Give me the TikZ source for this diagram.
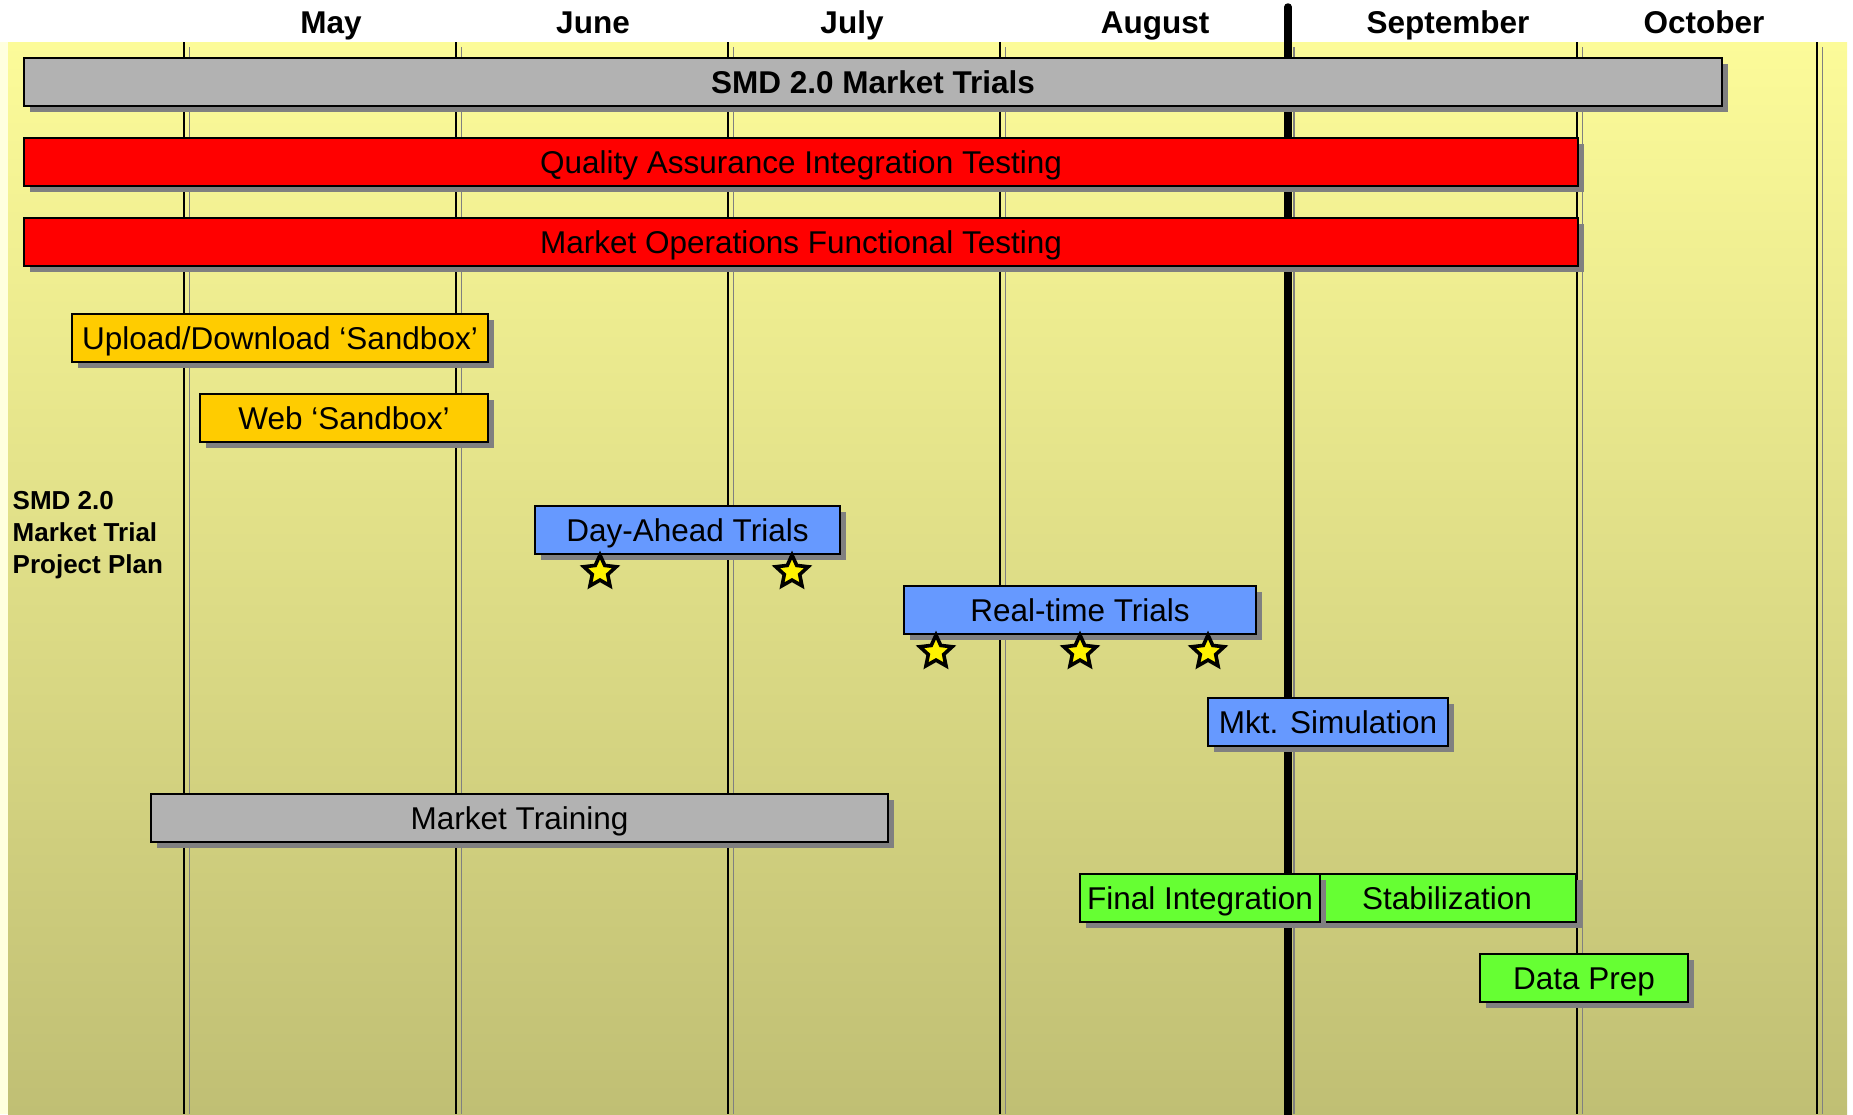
\documentclass[tikz,border=0pt]{standalone}
\usepackage{fontspec}
\setmainfont{Liberation Sans}
\usetikzlibrary{shapes.geometric,shadows}
\definecolor{bargray}{RGB}{178,178,178}
\definecolor{barred}{RGB}{255,0,0}
\definecolor{bargold}{RGB}{255,204,0}
\definecolor{barblue}{RGB}{102,153,255}
\definecolor{bargreen}{RGB}{102,255,51}
\definecolor{shadowgray}{RGB}{128,128,128}
\definecolor{bgtop}{RGB}{252,251,153}
\definecolor{bgbot}{RGB}{192,191,116}
\definecolor{palestrip}{RGB}{255,255,222}
\tikzset{
  bar/.style={draw=black, line width=2pt, rectangle, inner sep=0pt,
    minimum height=48pt, text height=22.5pt, text depth=0pt,
    font=\fontsize{31.5}{37}\selectfont,
    drop shadow={shadow xshift=5.5pt, shadow yshift=-5.5pt, fill=shadowgray, opacity=1}},
  month/.style={anchor=base, inner sep=0pt, font=\fontsize{31.5}{37}\selectfont\bfseries},
  starmark/.style={star, star points=5, star point ratio=2.1, minimum size=34pt,
    inner sep=0pt, draw=black, line width=3.6pt, fill=yellow},
  monthline/.style={draw=black, line width=1.8pt},
  monthshade/.style={draw=shadowgray, line width=1.8pt},
}
\begin{document}
\begin{tikzpicture}[x=1pt,y=-1pt]
\useasboundingbox (0,0) rectangle (1853,1114);
\clip (0,0) rectangle (1853,1114);
% background
\fill[white] (0,0) rectangle (1853,1114);
\fill[palestrip] (0,42) rectangle (8,1114);
\shade[top color=bgtop, bottom color=bgbot] (8,42) rectangle (1847,1114);
% month boundaries
\foreach \mx in {184,456,728,1000,1577,1817}{
  \draw[monthshade] (\mx+5.5,47) -- (\mx+5.5,1114);
  \draw[monthline] (\mx,42) -- (\mx,1114);
}
\draw[draw=shadowgray, line width=2pt] (1294,47) -- (1294,1114);
\draw[draw=black, line width=7.5pt, line cap=round] (1288,7) -- (1288,1120);
% month labels
\node[month] (may) at (331,33) {May};
\node[month] (jun) at (593,33) {June};
\node[month] (jul) at (852,33) {July};
\node[month] (aug) at (1155,33) {August};
\node[month] (sep) at (1448,33) {September};
\node[month] (oct) at (1704,33) {October};
% title
\node[anchor=north west, inner sep=0pt, align=left,
  font=\fontsize{26}{32}\selectfont\bfseries] (title) at (12.5,491.5)
  {SMD 2.0\\Market Trial\\Project Plan};
% bars
\node[bar, fill=bargray, minimum width=1698pt, font=\fontsize{31.5}{37}\selectfont\bfseries] (smd) at (873,82) {SMD 2.0 Market Trials};
\node[bar, fill=barred, minimum width=1554pt] (qa) at (801,162) {Quality Assurance Integration Testing};
\node[bar, fill=barred, minimum width=1554pt] (moft) at (801,242) {Market Operations Functional Testing};
\node[bar, fill=bargold, minimum width=416pt] (upl) at (280,338) {Upload/Download ‘Sandbox’};
\node[bar, fill=bargold, minimum width=288pt] (web) at (344,418) {Web ‘Sandbox’};
\node[bar, fill=barblue, minimum width=305pt] (dat) at (687.5,530) {Day-Ahead Trials};
\node[bar, fill=barblue, minimum width=352pt] (rtt) at (1080,610) {Real-time Trials};
\node[bar, fill=barblue, minimum width=240pt] (sim) at (1328,722) {Mkt. Simulation};
\node[bar, fill=bargray, minimum width=737pt] (trn) at (519.5,818) {Market Training};
\node[bar, fill=bargreen, minimum width=261pt] (stab) at (1445.5,898) {\hspace*{3pt}Stabilization};
\node[bar, fill=bargreen, minimum width=240pt] (fin) at (1200,898) {Final Integration};
\node[bar, fill=bargreen, minimum width=208pt] (dp) at (1584,978) {Data Prep};
% milestones
\node[starmark] (s1) at (600,572) {};
\node[starmark] (s2) at (792,572) {};
\node[starmark] (s3) at (936,652) {};
\node[starmark] (s4) at (1080,652) {};
\node[starmark] (s5) at (1208,652) {};
\end{tikzpicture}
\end{document}
